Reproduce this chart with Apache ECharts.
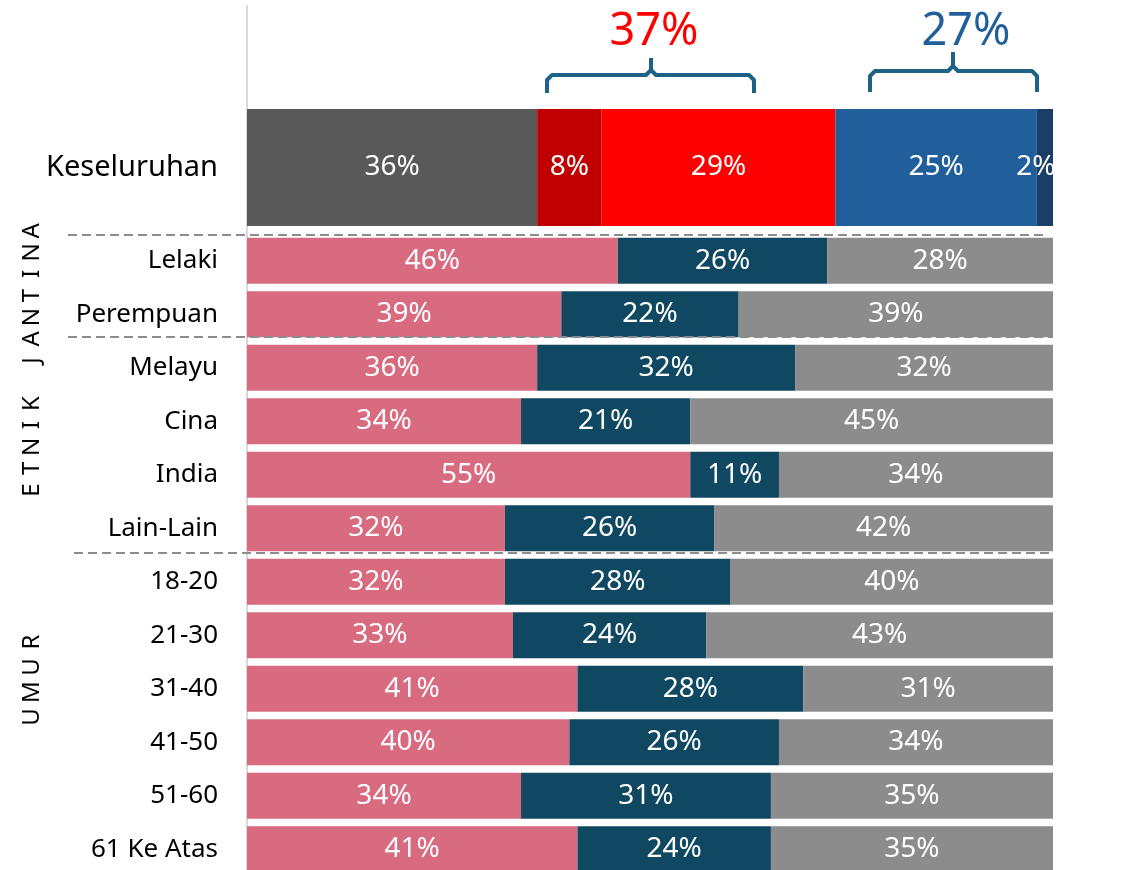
<!DOCTYPE html>
<html>
<head>
<meta charset="utf-8">
<script src="https://cdn.jsdelivr.net/npm/echarts@6/dist/echarts.min.js"></script>
<style>
  html, body { margin: 0; padding: 0; background: #fff; }
  #main { width: 1142px; height: 870px; }
</style>
</head>
<body>
<div id="main"></div>
<script>
// keseluruhan (overall) bar
const totalCat = ['Keseluruhan']
const totalNames = ['Tiada', 'A1', 'A2', 'B1', 'B2']
const totalValues = [36, 8, 29, 25, 2]
const totalColors = ['#595959', '#c00000', '#ff0000', '#215f9a', '#1a3e66']

// breakdown rows
const rowCats = ['Lelaki', 'Perempuan', 'Melayu', 'Cina', 'India', 'Lain-Lain',
  '18-20', '21-30', '31-40', '41-50', '51-60', '61 Ke Atas']
const pinkVals = [46, 39, 36, 34, 55, 32, 32, 33, 41, 40, 34, 41]
const tealVals = [26, 22, 32, 21, 11, 26, 28, 24, 28, 26, 31, 24]
const greyVals = [28, 39, 32, 45, 34, 42, 40, 43, 31, 34, 35, 35]
const rowColors = ['#d86b80', '#104862', '#8c8c8c']

// bracket summaries
const redSum = '37%'
const blueSum = '27%'

const FONT = 'Noto Sans'
const chart = echarts.init(document.getElementById('main'))

const labelStyle = {
  show: true,
  position: 'inside',
  color: '#fff',
  fontSize: 28,
  fontFamily: FONT,
  formatter: (p) => p.value + '%'
}

const topSeries = totalValues.map((v, i) => {
  return {
    name: totalNames[i],
    type: 'bar',
    stack: 'total',
    xAxisIndex: 0,
    yAxisIndex: 0,
    barWidth: '100%',
    itemStyle: { color: totalColors[i] },
    label: Object.assign({}, labelStyle, i === 4 ? { offset: [-9, 0] } : {}),
    data: [v]
  }
})

const rowSeries = [pinkVals, tealVals, greyVals].map((vals, i) => {
  return {
    type: 'bar',
    stack: 'rows',
    xAxisIndex: 1,
    yAxisIndex: 1,
    barWidth: 46,
    itemStyle: { color: rowColors[i] },
    label: labelStyle,
    data: vals
  }
})

// vertical group titles, one letter at a time
function spaced (text, x, yStart, step) {
  const out = []
  text.split('').forEach((ch, i) => {
    if (ch === ' ') return
    out.push({
      type: 'text',
      x: x,
      y: yStart - i * step,
      rotation: Math.PI / 2,
      style: {
        text: ch,
        fill: '#000',
        font: '24px "' + FONT + '"',
        textAlign: 'center',
        textVerticalAlign: 'middle'
      }
    })
  })
  return out
}

function dashed (y, x1, x2) {
  return {
    type: 'line',
    z: 10,
    shape: { x1: x1, y1: y, x2: x2, y2: y },
    style: { stroke: '#8c8c8c', lineWidth: 2, lineDash: [9, 5] }
  }
}

// curly bracket as two polylines meeting at the middle nub
function bracket (x1, x2, xm, yLine, yEnd, yTop) {
  const r = 5
  const st = { stroke: '#1e6288', lineWidth: 4, fill: null, lineJoin: 'round' }
  return [
    {
      type: 'polyline',
      shape: {
        points: [[x1, yEnd], [x1, yLine + r], [x1 + r, yLine], [xm - r, yLine],
          [xm, yLine - r], [xm, yTop]]
      },
      style: st
    },
    {
      type: 'polyline',
      shape: {
        points: [[x2, yEnd], [x2, yLine + r], [x2 - r, yLine], [xm + r, yLine],
          [xm, yLine - r]]
      },
      style: st
    }
  ]
}

const graphics = [
  {
    type: 'line',
    z: 0,
    shape: { x1: 247, y1: 5, x2: 247, y2: 870 },
    style: { stroke: '#d9d9d9', lineWidth: 2 }
  },
  dashed(235, 68, 1045),
  dashed(337, 68, 1053),
  dashed(553, 74, 1050),
  {
    type: 'text',
    x: 654,
    y: 32,
    style: {
      text: redSum, fill: '#ff0000', font: '45px "' + FONT + '"',
      textAlign: 'center', textVerticalAlign: 'middle'
    }
  },
  {
    type: 'text',
    x: 966,
    y: 32,
    style: {
      text: blueSum, fill: '#215f9a', font: '45px "' + FONT + '"',
      textAlign: 'center', textVerticalAlign: 'middle'
    }
  },
  // clip the 2% label at the chart edge
  {
    type: 'rect',
    z: 100,
    shape: { x: 1054, y: 105, width: 88, height: 125 },
    style: { fill: '#fff' }
  }
].concat(bracket(547, 754, 651, 75, 93, 58))
  .concat(bracket(870, 1037, 953, 71, 92, 52))
  .concat(spaced('ETNIK JANTINA', 32, 490, 21.6))
  .concat(spaced('UMUR', 32, 717, 25))

const option = {
  animation: false,
  backgroundColor: '#fff',
  textStyle: { fontFamily: FONT },
  grid: [
    { left: 247, width: 806, top: 109, height: 117, outerBoundsMode: 'none' },
    { left: 247, width: 806, top: 234, height: 642, outerBoundsMode: 'none' }
  ],
  xAxis: [
    { gridIndex: 0, type: 'value', min: 0, max: 100, show: false },
    { gridIndex: 1, type: 'value', min: 0, max: 100, show: false }
  ],
  yAxis: [
    {
      gridIndex: 0,
      type: 'category',
      data: totalCat,
      axisLine: { show: false },
      axisTick: { show: false },
      axisLabel: { margin: 29, color: '#000', fontSize: 29, fontFamily: FONT }
    },
    {
      gridIndex: 1,
      type: 'category',
      inverse: true,
      data: rowCats,
      axisLine: { show: false },
      axisTick: { show: false },
      axisLabel: { margin: 29, color: '#000', fontSize: 26, fontFamily: FONT }
    }
  ],
  series: topSeries.concat(rowSeries),
  graphic: graphics
}

chart.setOption(option)
</script>
</body>
</html>
